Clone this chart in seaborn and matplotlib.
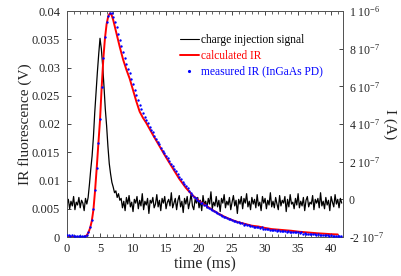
import numpy as np
import pandas as pd
import matplotlib
matplotlib.use("Agg")
import matplotlib.pyplot as plt
from matplotlib.lines import Line2D
import seaborn as sns

# ---------------- data ----------------
# calculated IR (V)
calc_time = [0, 2.5, 2.75, 3.0, 3.25, 3.5, 3.75, 4.0, 4.25, 4.5,
             4.75, 5.0, 5.25, 5.5, 5.75, 6.0, 6.25, 6.5, 6.75, 7.0,
             7.5, 8.0, 8.5, 9.0, 9.5, 10.0, 10.5, 11.0, 11.5, 12.0,
             13, 14, 15, 16, 17, 18, 19, 20,
             21, 22, 23, 24, 25, 26, 27, 28, 29, 30, 31, 32, 33, 34, 35, 36, 37, 38, 39, 40, 41]
calc_ir = [0, 0, 0.0001, 0.0003, 0.0008, 0.0016, 0.0028, 0.0048, 0.0082, 0.0122,
           0.0165, 0.0207, 0.0265, 0.0315, 0.0352, 0.0377, 0.0391, 0.0396, 0.0393, 0.0384,
           0.0360, 0.0336, 0.0314, 0.0296, 0.0280, 0.0260, 0.0240, 0.0222, 0.0211, 0.0202,
           0.0181, 0.0161, 0.0141, 0.0122, 0.0103, 0.0087, 0.0074, 0.0064,
           0.0056, 0.0048, 0.0041, 0.0035, 0.0030, 0.0026, 0.0023, 0.0020, 0.00185, 0.0016,
           0.0014, 0.0013, 0.0012, 0.0011, 0.00095, 0.00085, 0.00075, 0.00065, 0.00058, 0.0005, 0.00045]

# measured IR (V), sampled every 0.25 ms
meas_step = 0.25
meas_ir = [0.0004, 0.0003, 0.0002, 0.0003, 0.0002, 0.0002, 0.0001, 0.0002, 0.0001, 0.0001,
           0.0001, 0.0002, 0.0004, 0.0009, 0.0017, 0.0030, 0.0050, 0.0083, 0.0123, 0.0166,
           0.0209, 0.0266, 0.0316, 0.0354, 0.0380, 0.0392, 0.0397, 0.0396, 0.0390, 0.0381,
           0.0371, 0.0360, 0.0349, 0.0338, 0.0327, 0.0317, 0.0307, 0.0298, 0.0290, 0.0280,
           0.0270, 0.0261, 0.0252, 0.0243, 0.0234, 0.0226, 0.0219, 0.0212, 0.0207, 0.0201,
           0.0195, 0.0190, 0.0185, 0.0179, 0.0174, 0.0169, 0.0164, 0.0158, 0.0153, 0.0148,
           0.0143, 0.0139, 0.0134, 0.0129, 0.0125, 0.0120, 0.0116, 0.0111, 0.0106, 0.0102,
           0.0098, 0.0094, 0.0090, 0.0086, 0.0082, 0.0078, 0.0075, 0.0071, 0.0069, 0.0066,
           0.0064, 0.0061, 0.0060, 0.0057, 0.0056, 0.0053, 0.0052, 0.0049, 0.0048, 0.0046,
           0.0045, 0.0042, 0.0041, 0.0039, 0.0038, 0.0036, 0.0035, 0.0034, 0.0032, 0.0031,
           0.0030, 0.0029, 0.0028, 0.0026, 0.0026, 0.0024, 0.0024, 0.0022, 0.0023, 0.0021,
           0.0021, 0.0019, 0.0020, 0.0018, 0.0018, 0.0017, 0.0017, 0.0016, 0.0017, 0.0015,
           0.0015, 0.0014, 0.0015, 0.0013, 0.0013, 0.0012, 0.0013, 0.0011, 0.0012, 0.0011,
           0.0010, 0.0011, 0.0010, 0.0009, 0.0010, 0.0009, 0.0009, 0.0008, 0.0009, 0.0008,
           0.0008, 0.0007, 0.0008, 0.0006, 0.0007, 0.0006, 0.0006, 0.0005, 0.0006, 0.0005,
           0.0005, 0.0004, 0.0005, 0.0004, 0.0004, 0.0003, 0.0004, 0.0003, 0.0003, 0.0002,
           0.0003, 0.0002, 0.0002, 0.0001, 0.0002, 0.0001, 0.0001]

# charge injection signal (units of 1e-7 A), sampled every 0.2 ms
charge_step = 0.2
charge_1e7 = [
    -0.25, 0.0, -0.5, -0.1, -0.35, 0.15, -0.55, -0.15, -0.3, 0.1, -0.45, -0.05, -0.2, -0.6, 0.05, -0.25,
    0.1, 0.8, 1.6, 2.3, 3.3, 4.6, 5.7, 6.75, 7.7, 8.55, 8.0, 7.1, 6.0, 4.8, 3.9, 2.8, 1.9, 1.35, 0.9,
    0.65, 0.35, 0.45, 0.1, 0.3, -0.05,
    0.05, -0.45, -0.1, -0.6, 0.1, -0.25, 0.2, -0.4, -0.15, -0.65, 0.0, -0.2,
    0.15, -0.5, -0.05, -0.35, 0.3, -0.55, -0.1, -0.3, 0.05, -0.75, -0.05, -0.2,
    0.1, -0.45, -0.25, 0.25, -0.4, -0.05, -0.6, 0.05, -0.2, 0.15, -0.5, -0.15,
    0.0, -0.35, 0.35, -0.45, -0.2, 0.05, -0.55, -0.05, 0.2, -0.4, -0.1, -0.7,
    0.05, -0.25, 0.15, -0.5, -0.15, 0.3, -0.35, -0.55, 0.0, -0.2, 0.1, -0.45,
    -0.05, -0.6, 0.2, -0.3, -0.1, -0.45, 0.05, -0.25, 0.4, -0.5, -0.15, -0.35,
    0.15, -0.4, -0.05, -0.65, 0.05, -0.2, 0.25, -0.45, -0.1, -0.3, 0.1, -0.55,
    -0.15, 0.2, -0.35, -0.05, -0.75, 0.0, -0.25, 0.15, -0.5, 0.05, -0.2, 0.3,
    -0.4, -0.1, -0.55, 0.1, -0.25, 0.0, -0.45, 0.25, -0.35, -0.15, -0.6, 0.15,
    -0.2, 0.05, -0.5, -0.05, -0.3, 0.35, -0.4, -0.1, -0.45, 0.1, -0.25, -0.55,
    0.2, -0.35, -0.05, -0.2, 0.15, -0.65, 0.0, -0.4, 0.25, -0.25, -0.15, -0.5,
    0.05, -0.3, 0.3, -0.45, -0.1, -0.35, 0.1, -0.6, -0.05, 0.15, -0.4, -0.15,
    -0.25, 0.2, -0.55, 0.0, -0.2, 0.05, -0.45, 0.35, -0.35, -0.1, -0.5, 0.1,
    -0.3, -0.05, -0.6, 0.15, -0.15, -0.4, 0.25, -0.25, 0.0, -0.45, 0.05, -0.2,
]

left_ticks = [0, 0.005, 0.01, 0.015, 0.02, 0.025, 0.03, 0.035, 0.04]
left_labels = ["0", "0.005", "0.01", "0.015", "0.02", "0.025", "0.03", "0.035", "0.04"]
right_ticks = [-2e-7, 0, 2e-7, 4e-7, 6e-7, 8e-7, 1e-6]
right_labels = ["-2 10$^{-7}$", "0", "2 10$^{-7}$", "4 10$^{-7}$", "6 10$^{-7}$",
                "8 10$^{-7}$", "1 10$^{-6}$"]
x_ticks = [0, 5, 10, 15, 20, 25, 30, 35, 40]

# ---------------- style ----------------
sns.set_style("ticks")
plt.rcParams["font.family"] = ["Liberation Serif", "DejaVu Serif"]
plt.rcParams["mathtext.fontset"] = "custom"
plt.rcParams["mathtext.rm"] = "Liberation Serif"
plt.rcParams["mathtext.it"] = "Liberation Serif:italic"
plt.rcParams["font.size"] = 9

meas_df = pd.DataFrame({"t": np.arange(len(meas_ir)) * meas_step, "v": meas_ir})
calc_df = pd.DataFrame({"t": calc_time, "v": calc_ir})
charge_df = pd.DataFrame({"t": np.arange(len(charge_1e7)) * charge_step,
                          "i": np.array(charge_1e7) * 1e-7})

fig = plt.figure(figsize=(4.01, 2.76), dpi=100)
ax = fig.add_axes([67 / 401, 1 - 237 / 276, (343 - 67) / 401, (237 - 11) / 276])
ax2 = ax.twinx()

sns.lineplot(data=charge_df, x="t", y="i", ax=ax2, color="black", lw=0.9, sort=False)
sns.lineplot(data=calc_df, x="t", y="v", ax=ax, color="#ff0000", lw=1.4, sort=False)
sns.scatterplot(data=meas_df, x="t", y="v", ax=ax, color="#0000ff", s=3, linewidth=0, zorder=3)

ax2.set_zorder(ax.get_zorder() - 1)
ax.patch.set_visible(False)

ax.set_xlim(0, 41.8)
ax.set_ylim(0, 0.04)
ax2.set_ylim(-2e-7, 1e-6)

ax.set_xticks(x_ticks)
ax.set_xticklabels([str(x) for x in x_ticks])
ax.set_xticks(np.arange(0, 42, 1), minor=True)
ax.set_yticks(left_ticks)
ax.set_yticklabels(left_labels)
ax2.set_yticks(right_ticks)
ax2.set_yticklabels(right_labels)

ax.tick_params(axis="x", which="both", direction="in", top=True, bottom=True, pad=4)
ax.tick_params(axis="x", which="major", length=3, width=0.6)
ax.tick_params(axis="x", which="minor", length=2, width=0.5)
ax.tick_params(axis="y", which="both", direction="in", left=True, right=False, length=3, width=0.6, pad=5)
ax2.tick_params(axis="y", which="both", direction="in", right=True, left=False, length=3, width=0.6, pad=4)
ax.tick_params(labelsize=9)
ax2.tick_params(labelsize=8.5)
for a in (ax, ax2):
    for s in a.spines.values():
        s.set_linewidth(0.7)
        s.set_color("#555555")

ax.set_xlabel("time (ms)", fontsize=11.5, labelpad=1)
ax.set_ylabel("IR fluorescence (V)", fontsize=11, labelpad=0)
ax2.set_ylabel("I (A)", fontsize=11, rotation=270, labelpad=9)

handles = [Line2D([], [], color="black", lw=0.8),
           Line2D([], [], color="#ff0000", lw=1.4),
           Line2D([], [], color="#0000ff", marker=".", ms=2.5, lw=0)]
labels = ["charge injection signal", "calculated IR", "measured IR (InGaAs PD)"]
leg = ax.legend(handles, labels, loc="upper left", bbox_to_anchor=(0.41, 0.9),
                frameon=False, fontsize=8.3, handlelength=1.6, handletextpad=0.2,
                labelspacing=0.35, numpoints=1, borderaxespad=0, borderpad=0)
for txt, c in zip(leg.get_texts(), ["black", "#ff0000", "#0000ff"]):
    txt.set_color(c)

fig.savefig("out.png", dpi=100)
